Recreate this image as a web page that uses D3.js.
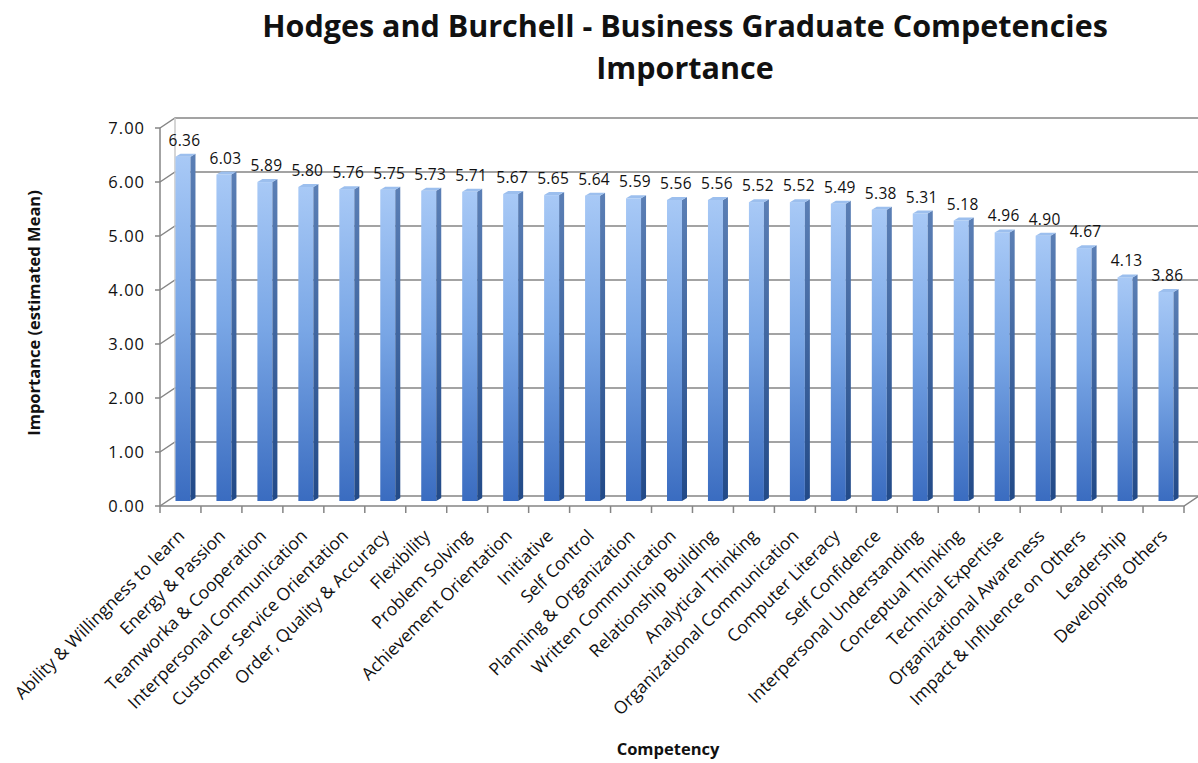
<!DOCTYPE html>
<html>
<head>
<meta charset="utf-8">
<script src="https://cdn.jsdelivr.net/npm/d3@7"></script>
<style>
  body { margin: 0; background: #fff; }
  text { font-family: "Open Sans", "Liberation Sans", sans-serif; fill: #111; }
</style>
</head>
<body>
<div id="chart"></div>
<script>
// chart data
var competencies = [
  "Ability & Willingness to learn", "Energy & Passion", "Teamworka & Cooperation",
  "Interpersonal Communication", "Customer Service Orientation", "Order, Quality & Accuracy",
  "Flexibility", "Problem Solving", "Achievement Orientation", "Initiative", "Self Control",
  "Planning & Organization", "Written Communication", "Relationship Building",
  "Analytical Thinking", "Organizational Communication", "Computer Literacy",
  "Self Confidence", "Interpersonal Understanding", "Conceptual Thinking",
  "Technical Expertise", "Organizational Awareness", "Impact & Influence on Others",
  "Leadership", "Developing Others"
];
var importance = [6.36, 6.03, 5.89, 5.80, 5.76, 5.75, 5.73, 5.71, 5.67, 5.65, 5.64, 5.59,
  5.56, 5.56, 5.52, 5.52, 5.49, 5.38, 5.31, 5.18, 4.96, 4.90, 4.67, 4.13, 3.86];
var yTicks = [0, 1, 2, 3, 4, 5, 6, 7];

var data = competencies.map(function(c, i) { return {name: c, value: importance[i]}; });

// 1. svg
var svgWidth = 1198, svgHeight = 763;
var svg = d3.select("#chart").append("svg")
    .attr("width", svgWidth)
    .attr("height", svgHeight);

// 3d depth offset of back wall
var depthX = 15, depthY = -10;
var plotLeft = 160, plotRight = 1184;

// 2. scales
var x = d3.scaleBand().domain(competencies).range([plotLeft, plotRight]);
var yFront = d3.scaleLinear().domain([0, 7]).range([506, 128]);
var yBar = d3.scaleLinear().domain([0, 7]).range([501, 122]);

// gradients
var defs = svg.append("defs");
var gFront = defs.append("linearGradient").attr("id", "gFront")
    .attr("x1", 0).attr("y1", 0).attr("x2", 0).attr("y2", 1);
gFront.append("stop").attr("offset", "0%").attr("stop-color", "#a8c9f6");
gFront.append("stop").attr("offset", "45%").attr("stop-color", "#7aa7e6");
gFront.append("stop").attr("offset", "100%").attr("stop-color", "#3a6cc0");
var gSide = defs.append("linearGradient").attr("id", "gSide")
    .attr("x1", 0).attr("y1", 0).attr("x2", 0).attr("y2", 1);
gSide.append("stop").attr("offset", "0%").attr("stop-color", "#5b7fb5");
gSide.append("stop").attr("offset", "100%").attr("stop-color", "#224a88");

// 3. walls and gridlines
var grid = svg.append("g").attr("stroke", "#858585").attr("fill", "none").attr("stroke-width", 1.5);
yTicks.forEach(function(t) {
  var yf = yFront(t), yb = yFront(t) + depthY;
  grid.append("path")
      .attr("d", `M${plotLeft},${yf}L${plotLeft + depthX},${yb}L${plotRight + depthX},${yb}`);
});
// left wall edges
grid.append("path").attr("d", `M${plotLeft},${yFront(0)}L${plotLeft},${yFront(7)}`);
grid.append("path").attr("d", `M${plotLeft + depthX},${yFront(0) + depthY}L${plotLeft + depthX},${yFront(7) + depthY}`)
    .attr("stroke", "#c8c8c8");
// floor front edge
grid.append("path")
    .attr("d", `M${plotLeft},${yFront(0)}L${plotRight},${yFront(0)}L${plotRight + depthX},${yFront(0) + depthY}`);

// 4. y axis ticks + labels
var yAxisG = svg.append("g");
yTicks.forEach(function(t) {
  yAxisG.append("line")
      .attr("x1", plotLeft - 5).attr("x2", plotLeft)
      .attr("y1", yFront(t)).attr("y2", yFront(t))
      .attr("stroke", "#858585").attr("stroke-width", 1.5);
  yAxisG.append("text")
      .attr("x", plotLeft - 15).attr("y", yFront(t))
      .attr("dy", "0.35em")
      .attr("text-anchor", "end")
      .attr("font-size", "16.5px")
      .attr("letter-spacing", "1px")
      .text(t.toFixed(2));
});

// 5. x axis ticks
var xAxisG = svg.append("g");
competencies.concat([null]).forEach(function(c, i) {
  var xx = c === null ? plotRight : x(c);
  xAxisG.append("line")
      .attr("x1", xx).attr("x2", xx)
      .attr("y1", yFront(0)).attr("y2", yFront(0) + 7)
      .attr("stroke", "#858585").attr("stroke-width", 1.5);
});

// 6. bars (front face, side, top)
var barW = 15, sideW = 5, sideH = 3;
var bars = svg.append("g").selectAll("g.bar")
    .data(data)
    .enter()
    .append("g")
    .attr("class", "bar");

bars.append("rect")
    .attr("x", d => x(d.name) + x.bandwidth() / 2 - 5)
    .attr("y", d => yBar(d.value))
    .attr("width", barW)
    .attr("height", d => yBar(0) - yBar(d.value))
    .attr("fill", "url(#gFront)");

bars.append("path")
    .attr("d", function(d) {
      var x0 = x(d.name) + x.bandwidth() / 2 - 5 + barW;
      var yt = yBar(d.value), yb = yBar(0);
      return `M${x0},${yt}L${x0 + sideW},${yt - sideH}L${x0 + sideW},${yb - sideH}L${x0},${yb}Z`;
    })
    .attr("fill", "url(#gSide)");

bars.append("path")
    .attr("d", function(d) {
      var x0 = x(d.name) + x.bandwidth() / 2 - 5;
      var yt = yBar(d.value);
      return `M${x0},${yt}L${x0 + sideW},${yt - sideH}L${x0 + barW + sideW},${yt - sideH}L${x0 + barW},${yt}Z`;
    })
    .attr("fill", "#9cbfee");

// 7. value labels
svg.append("g").selectAll("text")
    .data(data)
    .enter()
    .append("text")
    .attr("x", d => x(d.name) + x.bandwidth() / 2 + 4)
    .attr("y", d => yBar(d.value) - 11)
    .attr("text-anchor", "middle")
    .attr("font-size", "15.5px")
    .attr("letter-spacing", "0.3px")
    .text(d => d.value.toFixed(2));

// 8. category labels
svg.append("g").selectAll("text")
    .data(competencies)
    .enter()
    .append("text")
    .attr("transform", d => `translate(${x(d) + x.bandwidth() / 2 + 5}, ${yFront(0) + 31}) rotate(-45)`)
    .attr("text-anchor", "end")
    .attr("font-size", "17.5px")
    .text(d => d);

// 9. titles
svg.append("text")
    .attr("x", 685).attr("y", 37)
    .attr("text-anchor", "middle")
    .attr("font-size", "30.5px")
    .attr("font-weight", "bold")
    .text("Hodges and Burchell - Business Graduate Competencies");
svg.append("text")
    .attr("x", 685).attr("y", 79)
    .attr("text-anchor", "middle")
    .attr("font-size", "30.5px")
    .attr("font-weight", "bold")
    .text("Importance");

svg.append("text")
    .attr("transform", `translate(40, ${313}) rotate(-90)`)
    .attr("text-anchor", "middle")
    .attr("font-size", "16.5px")
    .attr("font-weight", "bold")
    .text("Importance (estimated Mean)");

svg.append("text")
    .attr("x", 668).attr("y", 755)
    .attr("text-anchor", "middle")
    .attr("font-size", "16.5px")
    .attr("font-weight", "bold")
    .text("Competency");
</script>
</body>
</html>
